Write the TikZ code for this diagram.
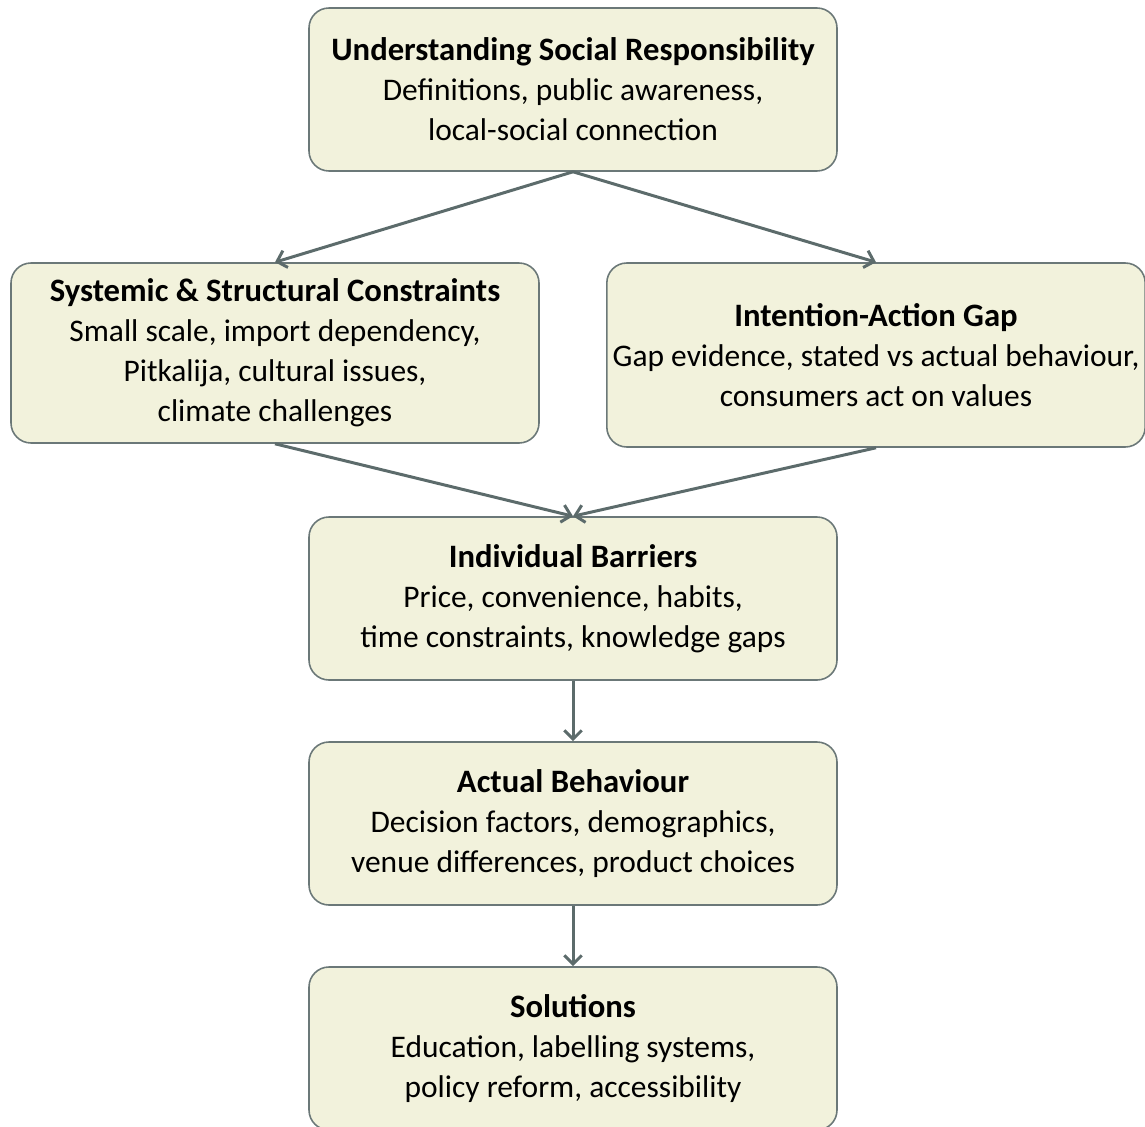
\documentclass[tikz,border=0pt]{standalone}
\usepackage{fontspec}
\setmainfont{Carlito}
\usetikzlibrary{arrows.meta}
\definecolor{boxfill}{HTML}{F2F2DC}
\definecolor{boxline}{HTML}{6B7878}
\definecolor{arrline}{HTML}{5C6B6B}
\newcommand{\boxtitle}[1]{{\fontsize{18.6}{22.7}\selectfont\bfseries #1}}
\begin{document}
\begin{tikzpicture}[
  box/.style={draw=boxline, fill=boxfill, rounded corners=0.4cm, line width=0.9pt,
    align=center, minimum width=10.56cm, minimum height=3.26cm,
    font=\fontsize{17.9}{22.7}\selectfont},
  arr/.style={draw=arrline, line width=1.7pt, -{Straight Barb[length=5pt,width=10pt]}}]
\useasboundingbox (0,0) rectangle (22.9,-22.52);
% boxes
\node[box] (usr) at (11.46,-1.79) {\boxtitle{Understanding Social Responsibility}\\
  Definitions, public awareness,\\ local-social connection};
\node[box, minimum height=3.6cm] (sys) at (5.5,-7.06) {\boxtitle{Systemic \& Structural Constraints}\\
  Small scale, import dependency,\\ Pitkalija, cultural issues,\\ climate challenges};
\node[box, minimum width=10.76cm, minimum height=3.68cm] (gap) at (17.52,-7.10) {\boxtitle{Intention-Action Gap}\\
  Gap evidence, stated vs actual behaviour,\\ consumers act on values};
\node[box] (ind) at (11.46,-11.97) {\boxtitle{Individual Barriers}\\
  Price, convenience, habits,\\ time constraints, knowledge gaps};
\node[box] (act) at (11.46,-16.47) {\boxtitle{Actual Behaviour}\\
  Decision factors, demographics,\\ venue differences, product choices};
\node[box] (sol) at (11.46,-20.97) {\boxtitle{Solutions}\\
  Education, labelling systems,\\ policy reform, accessibility};
% arrows
\draw[arr] (usr.south) -- (sys.north);
\draw[arr] (usr.south) -- (gap.north);
\draw[arr] (sys.south) -- (ind.north);
\draw[arr] (gap.south) -- (ind.north);
\draw[arr] (ind.south) -- (act.north);
\draw[arr] (act.south) -- (sol.north);
\end{tikzpicture}
\end{document}
